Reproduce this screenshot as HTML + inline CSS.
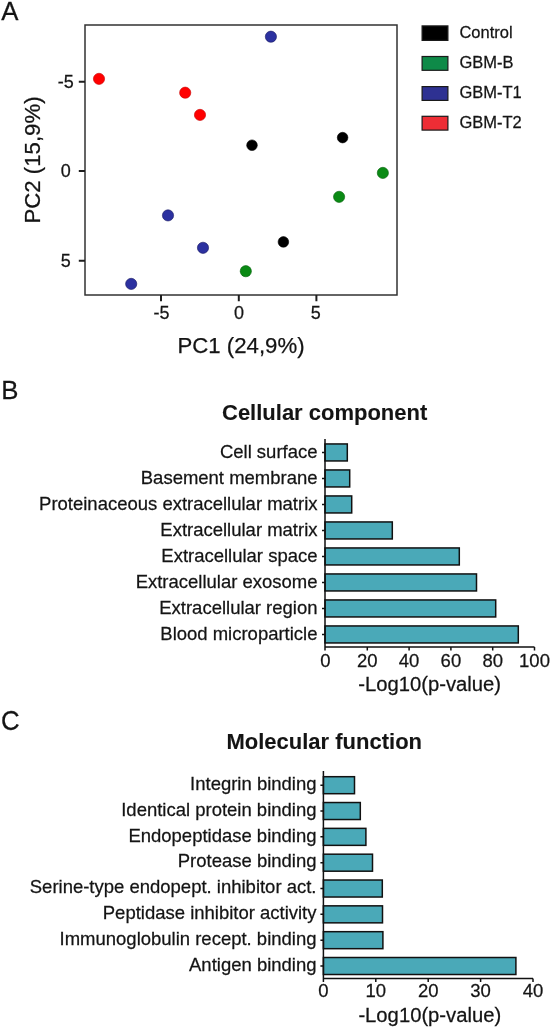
<!DOCTYPE html>
<html><head><meta charset="utf-8">
<style>
html,body{margin:0;padding:0;background:#fff;}
body{width:550px;height:1028px;overflow:hidden;}
svg{display:block;will-change:transform;}
text{font-family:"Liberation Sans",sans-serif;fill:#141414;stroke:#141414;stroke-width:0.25px;}
text[font-weight]{stroke-width:0.1px;}
</style></head><body>
<svg width="550" height="1028" viewBox="0 0 550 1028">
<text transform="translate(1.20 19.90) scale(1 1.02)" font-size="25.8">A</text>
<g fill="none" stroke="#323232" stroke-width="1.5"><rect x="85" y="25" width="312" height="270"/></g>
<g fill="none" stroke="#1e1e1e" stroke-width="2"><path d="M78.8 81.7H85M78.8 171H85M78.8 260.8H85M161 295V301.2M238.8 295V301.2M316.4 295V301.2"/></g>
<text transform="translate(65.70 88.00) scale(1 1.04)" font-size="18" text-anchor="middle">-5</text>
<text transform="translate(65.70 177.00) scale(1 1.04)" font-size="18" text-anchor="middle">0</text>
<text transform="translate(65.70 266.70) scale(1 1.04)" font-size="18" text-anchor="middle">5</text>
<text transform="translate(161.50 319.00) scale(1 1.04)" font-size="18" text-anchor="middle">-5</text>
<text transform="translate(239.00 319.00) scale(1 1.04)" font-size="18" text-anchor="middle">0</text>
<text transform="translate(315.80 319.00) scale(1 1.04)" font-size="18" text-anchor="middle">5</text>
<text transform="translate(241.00 353.30)" font-size="22.2" text-anchor="middle">PC1 (24,9%)</text>
<text transform="translate(39.80 160.00) rotate(-90)" font-size="22.2" text-anchor="middle">PC2 (15,9%)</text>
<g stroke-width="0.6">
<g fill="#ff0000" stroke="#c80000"><circle cx="99" cy="78.85" r="5.6"/><circle cx="185.2" cy="92.7" r="5.6"/><circle cx="200" cy="114.9" r="5.6"/></g>
<g fill="#2c31a0" stroke="#161660"><circle cx="270.9" cy="36.7" r="5.6"/><circle cx="168" cy="215.4" r="5.6"/><circle cx="203" cy="247.8" r="5.6"/><circle cx="131.2" cy="283.9" r="5.6"/></g>
<g fill="#000000" stroke="#000000"><circle cx="252" cy="145.2" r="5.3"/><circle cx="342.6" cy="137.6" r="5.3"/><circle cx="283.4" cy="241.9" r="5.3"/></g>
<g fill="#0a8a14" stroke="#04600a"><circle cx="382.85" cy="172.9" r="5.6"/><circle cx="339.1" cy="196.85" r="5.6"/><circle cx="245.8" cy="271.2" r="5.6"/></g>
</g>
<g stroke="#1a1a1a" stroke-width="1.2">
<rect x="422.1" y="25.9" width="25.8" height="14.5" fill="#000"/>
<rect x="422.1" y="56.5" width="25.8" height="13.8" fill="#0e8a48"/>
<rect x="422.1" y="86.6" width="25.8" height="13.8" fill="#2e3192"/>
<rect x="422.1" y="116.3" width="25.8" height="13.8" fill="#ee2d35"/>
</g>
<text transform="translate(459.40 37.60) scale(1 1.04)" font-size="16.5">Control</text>
<text transform="translate(459.40 67.60) scale(1 1.04)" font-size="16.5">GBM-B</text>
<text transform="translate(459.40 97.60) scale(1 1.04)" font-size="16.5">GBM-T1</text>
<text transform="translate(459.40 127.60) scale(1 1.04)" font-size="16.5">GBM-T2</text>
<text transform="translate(1.20 399.30) scale(1 1.02)" font-size="25.8">B</text>
<text transform="translate(222.00 419.50) scale(1 1.04)" font-size="22" font-weight="bold">Cellular component</text>
<g fill="#4aa9b8" stroke="#111" stroke-width="1.5">
<rect x="325" y="443.95" width="22.3" height="17"/>
<rect x="325" y="469.95" width="24.7" height="17"/>
<rect x="325" y="495.95" width="26.7" height="17"/>
<rect x="325" y="521.95" width="67.3" height="17"/>
<rect x="325" y="547.95" width="134.3" height="17"/>
<rect x="325" y="573.95" width="151.5" height="17"/>
<rect x="325" y="599.95" width="170.7" height="17"/>
<rect x="325" y="625.95" width="193.3" height="17"/>
</g>
<g fill="none" stroke="#111" stroke-width="1.5">
<path d="M325 439V650.5M325 647H534.5"/>
<path d="M322 452.45H325M322 478.45H325M322 504.45H325M322 530.45H325M322 556.45H325M322 582.45H325M322 608.45H325M322 634.45H325"/>
<path d="M367.3 647V650.6M409.1 647V650.6M450.9 647V650.6M492.7 647V650.6M534.5 647V650.6"/>
</g>
<text transform="translate(317.50 457.60) scale(1 1.04)" font-size="18.5" text-anchor="end">Cell surface</text>
<text transform="translate(317.50 483.60) scale(1 1.04)" font-size="18.5" text-anchor="end">Basement membrane</text>
<text transform="translate(317.50 509.60) scale(1 1.04)" font-size="18.5" text-anchor="end">Proteinaceous extracellular matrix</text>
<text transform="translate(317.50 535.60) scale(1 1.04)" font-size="18.5" text-anchor="end">Extracellular matrix</text>
<text transform="translate(317.50 561.60) scale(1 1.04)" font-size="18.5" text-anchor="end">Extracellular space</text>
<text transform="translate(317.50 587.60) scale(1 1.04)" font-size="18.5" text-anchor="end">Extracellular exosome</text>
<text transform="translate(317.50 613.60) scale(1 1.04)" font-size="18.5" text-anchor="end">Extracellular region</text>
<text transform="translate(317.50 639.60) scale(1 1.04)" font-size="18.5" text-anchor="end">Blood microparticle</text>
<text transform="translate(325.50 667.30) scale(1 1.04)" font-size="18.5" text-anchor="middle">0</text>
<text transform="translate(367.30 667.30) scale(1 1.04)" font-size="18.5" text-anchor="middle">20</text>
<text transform="translate(409.10 667.30) scale(1 1.04)" font-size="18.5" text-anchor="middle">40</text>
<text transform="translate(450.90 667.30) scale(1 1.04)" font-size="18.5" text-anchor="middle">60</text>
<text transform="translate(492.70 667.30) scale(1 1.04)" font-size="18.5" text-anchor="middle">80</text>
<text transform="translate(534.50 667.30) scale(1 1.04)" font-size="18.5" text-anchor="middle">100</text>
<text transform="translate(429.60 691.20) scale(1 1.04)" font-size="20.25" text-anchor="middle">-Log10(p-value)</text>
<text transform="translate(1.00 730.00) scale(1 1.045)" font-size="25.8">C</text>
<text transform="translate(226.50 748.80) scale(1 1.04)" font-size="22" font-weight="bold">Molecular function</text>
<g fill="#4aa9b8" stroke="#111" stroke-width="1.5">
<rect x="323.4" y="776.70" width="31.1" height="17"/>
<rect x="323.4" y="802.53" width="36.9" height="17"/>
<rect x="323.4" y="828.36" width="42.5" height="17"/>
<rect x="323.4" y="854.19" width="49.1" height="17"/>
<rect x="323.4" y="880.02" width="58.9" height="17"/>
<rect x="323.4" y="905.85" width="59.1" height="17"/>
<rect x="323.4" y="931.68" width="59.5" height="17"/>
<rect x="323.4" y="957.51" width="192.5" height="17"/>
</g>
<g fill="none" stroke="#111" stroke-width="1.5">
<path d="M323.4 771V982M323.4 978.6H533"/>
<path d="M320.4 785.20H323.4M320.4 811.03H323.4M320.4 836.86H323.4M320.4 862.69H323.4M320.4 888.52H323.4M320.4 914.35H323.4M320.4 940.18H323.4M320.4 966.01H323.4"/>
<path d="M375.8 978.6V982M428.2 978.6V982M480.6 978.6V982M533.0 978.6V982"/>
</g>
<text transform="translate(316.50 789.90) scale(1 1.04)" font-size="18.5" text-anchor="end">Integrin binding</text>
<text transform="translate(316.50 815.73) scale(1 1.04)" font-size="18.5" text-anchor="end">Identical protein binding</text>
<text transform="translate(316.50 841.56) scale(1 1.04)" font-size="18.5" text-anchor="end">Endopeptidase binding</text>
<text transform="translate(316.50 867.39) scale(1 1.04)" font-size="18.5" text-anchor="end">Protease binding</text>
<text transform="translate(316.50 893.22) scale(1 1.04)" font-size="18.5" text-anchor="end">Serine-type endopept. inhibitor act.</text>
<text transform="translate(316.50 919.05) scale(1 1.04)" font-size="18.5" text-anchor="end">Peptidase inhibitor activity</text>
<text transform="translate(316.50 944.88) scale(1 1.04)" font-size="18.5" text-anchor="end">Immunoglobulin recept. binding</text>
<text transform="translate(316.50 970.71) scale(1 1.04)" font-size="18.5" text-anchor="end">Antigen binding</text>
<text transform="translate(323.40 997.40) scale(1 1.04)" font-size="18.5" text-anchor="middle">0</text>
<text transform="translate(375.80 997.40) scale(1 1.04)" font-size="18.5" text-anchor="middle">10</text>
<text transform="translate(428.20 997.40) scale(1 1.04)" font-size="18.5" text-anchor="middle">20</text>
<text transform="translate(480.60 997.40) scale(1 1.04)" font-size="18.5" text-anchor="middle">30</text>
<text transform="translate(533.00 997.40) scale(1 1.04)" font-size="18.5" text-anchor="middle">40</text>
<text transform="translate(429.80 1022.00) scale(1 1.04)" font-size="20.25" text-anchor="middle">-Log10(p-value)</text>
</svg>
</body></html>
